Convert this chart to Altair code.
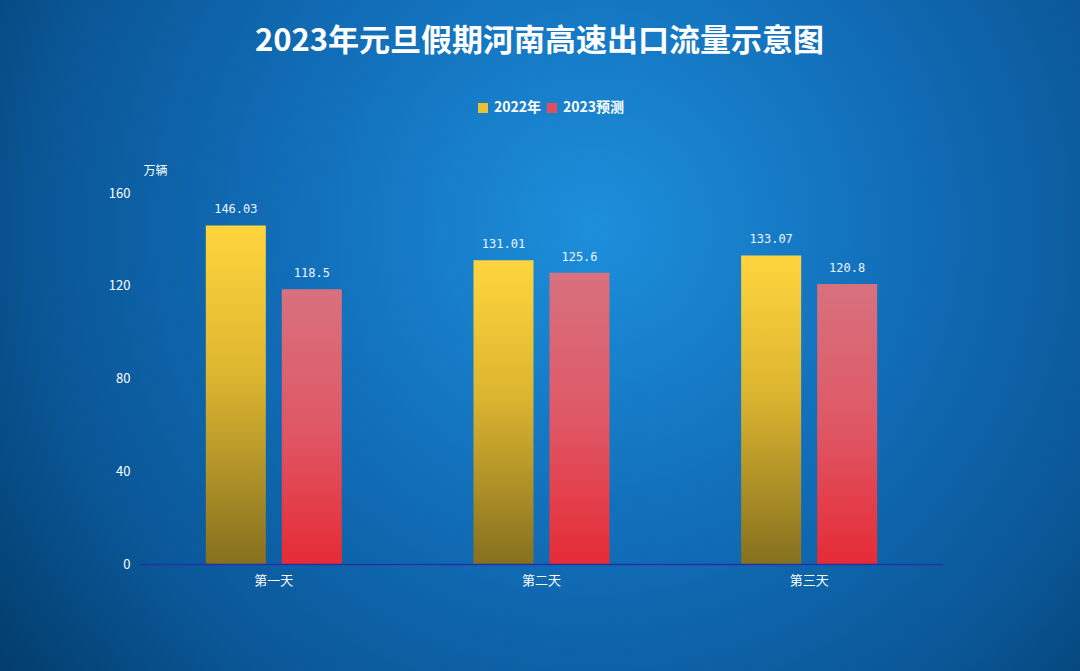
import altair as alt
import pandas as pd

days = ["第一天", "第二天", "第三天"]
series = ["2022年", "2023预测"]
values_2022 = [146.03, 131.01, 133.07]
values_2023 = [118.5, 125.6, 120.8]
labels_2022 = ["146.03", "131.01", "133.07"]
labels_2023 = ["118.5", "125.6", "120.8"]
y_ticks = [0, 40, 80, 120, 160]

rows = []
for i, d in enumerate(days):
    rows.append({"day": d, "series": series[0], "value": values_2022[i], "label": labels_2022[i]})
    rows.append({"day": d, "series": series[1], "value": values_2023[i], "label": labels_2023[i]})
df = pd.DataFrame(rows)

W, H = 803, 371
PL, PT, PR, PB = 140, 193, 137, 107

grad_yellow = {"gradient": "linear", "x1": 0, "y1": 0, "x2": 0, "y2": 1,
               "stops": [{"offset": 0, "color": "#ffd53d"},
                         {"offset": 0.45, "color": "#dcb530"},
                         {"offset": 1, "color": "#85701f"}]}
grad_red = {"gradient": "linear", "x1": 0, "y1": 0, "x2": 0, "y2": 1,
            "stops": [{"offset": 0, "color": "#d8717e"},
                      {"offset": 0.5, "color": "#df5866"},
                      {"offset": 1, "color": "#e62b35"}]}
grad_bg = {"gradient": "radial", "x1": 0.55, "y1": 0.4, "r1": 0,
           "x2": 0.55, "y2": 0.4, "r2": 0.68,
           "stops": [{"offset": 0, "color": "#1d8fdb"},
                     {"offset": 0.4, "color": "#126fba"},
                     {"offset": 0.75, "color": "#0a5797"},
                     {"offset": 1, "color": "#033e6d"}]}

base = alt.Chart(df)

bg = base.mark_rect(fill=grad_bg).encode(
    x=alt.value(-PL), x2=alt.value(W + PR),
    y=alt.value(-PT), y2=alt.value(H + PB),
)

x_enc = alt.X("day:N", sort=days, title=None,
              scale=alt.Scale(paddingInner=0, paddingOuter=0),
              axis=alt.Axis(labelAngle=0, labelColor="white", labelFontSize=13,
                            labelFont="Noto Sans CJK SC", labelPadding=10,
                            ticks=False, domainColor="#2430a8", domainWidth=1.5,
                            grid=False, zindex=1))
xoff = alt.XOffset("series:N", sort=series,
                   scale=alt.Scale(paddingInner=16 / 76, paddingOuter=0.866))
y_enc = alt.Y("value:Q", scale=alt.Scale(domain=[0, 160], nice=False),
              axis=alt.Axis(values=y_ticks, labelColor="white", labelFontSize=13,
                            labelFont="Noto Sans CJK SC", labelPadding=10,
                            ticks=False, domain=False, grid=False, zindex=1,
                            title="万辆", titleAngle=0, titleColor="white",
                            titleFontSize=12, titleFontWeight="normal",
                            titleFont="Noto Sans CJK SC",
                            titleAlign="center", titleBaseline="middle",
                            titleX=15, titleY=-23))

bars = base.mark_bar().encode(
    x=x_enc, xOffset=xoff, y=y_enc,
    fill=alt.condition(alt.datum.series == series[0],
                       alt.value(grad_yellow), alt.value(grad_red)),
)

legend_layer = base.mark_square(opacity=0, size=0).encode(
    x=alt.X("day:N", sort=days), y="value:Q",
    color=alt.Color("series:N", sort=series,
                    scale=alt.Scale(domain=series, range=["#e8c232", "#e0505c"]),
                    legend=alt.Legend(title=None, orient="none", direction="horizontal",
                                      legendX=336, legendY=-92,
                                      symbolType="square", symbolSize=100,
                                      symbolOpacity=1, symbolStrokeWidth=0,
                                      labelColor="white", labelFontSize=14,
                                      labelFontWeight="bold",
                                      labelFont="Noto Sans CJK SC",
                                      columnPadding=3, labelOffset=4)),
)

text = base.mark_text(baseline="bottom", dy=-9, color="#eef4ff",
                      font="DejaVu Sans Mono", fontSize=12).encode(
    x=alt.X("day:N", sort=days), xOffset=alt.XOffset("series:N", sort=series),
    y="value:Q", text="label:N",
)

chart = alt.layer(bg, bars, text, legend_layer).properties(
    width=W, height=H,
    autosize=alt.AutoSizeParams(type="none"),
    padding={"left": PL, "top": PT, "right": PR, "bottom": PB},
    title=alt.TitleParams("2023年元旦假期河南高速出口流量示意图", color="white",
                          fontSize=31, fontWeight="bold", font="Noto Sans CJK SC",
                          anchor="middle", dy=62, dx=-2, zindex=2),
).configure_view(stroke=None).configure(background="#03406f")

chart.save("out.html", embed_options={"renderer": "svg", "actions": False})
